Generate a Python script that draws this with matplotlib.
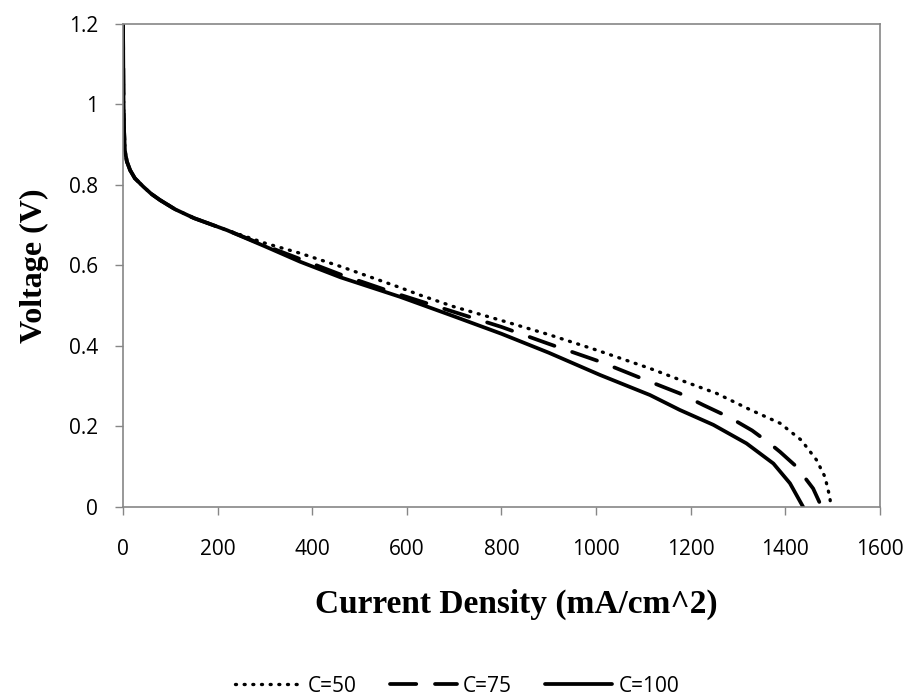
import matplotlib
matplotlib.use('Agg')
import matplotlib.pyplot as plt

# polarization curves
current_c50 = [0, 1, 2, 4, 8, 15, 25, 43, 60, 78, 110, 150, 220, 300, 374, 460, 585, 628, 700,
               800, 900, 1000, 1114, 1188, 1255, 1325, 1389, 1434, 1466, 1484, 1494, 1497]
voltage_c50 = [1.2, 1.02, 0.94, 0.885, 0.858, 0.836, 0.816, 0.795, 0.777, 0.762, 0.739, 0.717,
               0.687, 0.655, 0.63, 0.597, 0.545, 0.526, 0.497, 0.463, 0.428, 0.39, 0.344,
               0.311, 0.282, 0.242, 0.208, 0.166, 0.117, 0.075, 0.026, 0.0]

current_c75 = [0, 1, 2, 4, 8, 15, 25, 43, 60, 78, 110, 150, 220, 300, 380, 460, 585, 719, 800,
               900, 1008, 1114, 1177, 1227, 1283, 1330, 1367, 1389, 1424, 1459, 1477]
voltage_c75 = [1.2, 1.02, 0.94, 0.885, 0.858, 0.836, 0.816, 0.795, 0.777, 0.762, 0.739, 0.717,
               0.687, 0.649, 0.613, 0.577, 0.527, 0.477, 0.447, 0.405, 0.361, 0.311, 0.282,
               0.253, 0.222, 0.19, 0.158, 0.137, 0.1, 0.046, 0.0]

current_c100 = [0, 1, 2, 4, 8, 15, 25, 43, 60, 78, 110, 150, 220, 300, 374, 460, 585, 691, 800,
                900, 1008, 1114, 1177, 1248, 1318, 1375, 1410, 1438]
voltage_c100 = [1.2, 1.02, 0.94, 0.885, 0.858, 0.836, 0.816, 0.795, 0.777, 0.762, 0.739, 0.717,
                0.687, 0.647, 0.609, 0.57, 0.522, 0.477, 0.43, 0.383, 0.328, 0.278, 0.241,
                0.204, 0.158, 0.108, 0.059, 0.0]

series_labels = ['C=50', 'C=75', 'C=100']
x_ticks = [0, 200, 400, 600, 800, 1000, 1200, 1400, 1600]
y_ticks = [0, 0.2, 0.4, 0.6, 0.8, 1.0, 1.2]
y_tick_labels = ['0', '0.2', '0.4', '0.6', '0.8', '1', '1.2']

tick_font = ['Open Sans', 'DejaVu Sans']
label_font = ['Liberation Serif', 'DejaVu Serif']
grey = '#868686'

fig = plt.figure(figsize=(9.14, 6.98), dpi=100)
ax = fig.add_axes([0.1346, 0.2736, 0.828, 0.6927])

ax.plot(current_c50, voltage_c50, color='black', lw=2.4, dashes=(0.3, 2.3),
        dash_capstyle='round', label=series_labels[0])
ax.plot(current_c75, voltage_c75, color='black', lw=2.7, dashes=(7, 5),
        dash_capstyle='round', label=series_labels[1])
ax.plot(current_c100, voltage_c100, color='black', lw=2.7,
        solid_capstyle='round', label=series_labels[2])

ax.set_xlim(0, 1600)
ax.set_ylim(0, 1.2)
ax.set_xticks(x_ticks)
ax.set_xticklabels([str(t) for t in x_ticks], family=tick_font, fontsize=15)
ax.set_yticks(y_ticks)
ax.set_yticklabels(y_tick_labels, family=tick_font, fontsize=15)
ax.tick_params(direction='out', length=6, width=1, color=grey)
ax.tick_params(axis='x', pad=17)
ax.tick_params(axis='y', pad=12)

for s in ax.spines.values():
    s.set_color(grey)
    s.set_linewidth(1.2)

ax.set_xlabel('Current Density (mA/cm^2)', family=label_font, fontweight='bold',
              fontsize=24, labelpad=21)
ax.xaxis.label.set_x(0.52)
ax.set_ylabel('Voltage (V)', family=label_font, fontweight='bold',
              fontsize=23, labelpad=14)

fig.legend(loc='lower center', bbox_to_anchor=(0.5, -0.025), ncol=3, frameon=False,
           prop={'family': tick_font, 'size': 15}, handlelength=3.2,
           handletextpad=0.3, columnspacing=1.6)

plt.savefig('out.png', dpi=100)
